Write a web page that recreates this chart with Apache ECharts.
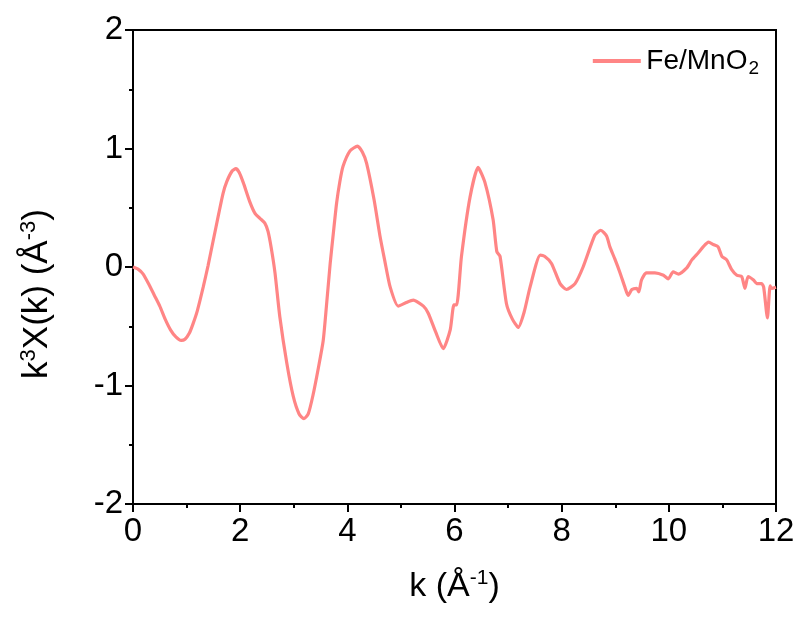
<!DOCTYPE html>
<html><head><meta charset="utf-8">
<script src="https://cdn.jsdelivr.net/npm/echarts@6/dist/echarts.min.js"></script>
<style>html,body{margin:0;padding:0;background:#fff}#c{width:798px;height:626px}</style>
</head><body><div id="c"></div>
<script>
const kValues = [0, 0.1, 0.19, 0.3, 0.4, 0.5, 0.6, 0.7, 0.8, 0.9, 0.97, 1.05, 1.12, 1.2, 1.31, 1.4, 1.5, 1.6, 1.68, 1.75, 1.85, 1.92, 1.98, 2.06, 2.18, 2.28, 2.37, 2.46, 2.52, 2.58, 2.65, 2.74, 2.87, 2.99, 3.1, 3.19, 3.27, 3.36, 3.46, 3.55, 3.61, 3.68, 3.74, 3.8, 3.86, 3.92, 4.05, 4.19, 4.28, 4.36, 4.5, 4.61, 4.7, 4.8, 4.95, 5.1, 5.23, 5.42, 5.51, 5.65, 5.79, 5.92, 5.99, 6.04, 6.13, 6.29, 6.44, 6.57, 6.72, 6.79, 6.85, 6.97, 7.08, 7.19, 7.3, 7.41, 7.6, 7.68, 7.81, 7.97, 8.09, 8.25, 8.4, 8.62, 8.73, 8.84, 8.9, 8.99, 9.09, 9.18, 9.24, 9.31, 9.4, 9.44, 9.49, 9.58, 9.74, 9.9, 9.99, 10.08, 10.18, 10.33, 10.43, 10.55, 10.64, 10.74, 10.83, 10.92, 10.99, 11.08, 11.17, 11.27, 11.36, 11.42, 11.48, 11.58, 11.64, 11.73, 11.77, 11.84, 11.89, 11.92, 12];
const chiValues = [0, -0.02, -0.06, -0.15, -0.24, -0.33, -0.44, -0.53, -0.59, -0.62, -0.61, -0.56, -0.48, -0.37, -0.17, 0.01, 0.23, 0.45, 0.62, 0.72, 0.81, 0.83, 0.80, 0.71, 0.55, 0.45, 0.41, 0.37, 0.30, 0.16, -0.05, -0.42, -0.81, -1.09, -1.24, -1.28, -1.24, -1.08, -0.85, -0.62, -0.33, 0.03, 0.29, 0.54, 0.72, 0.85, 0.98, 1.02, 0.97, 0.875, 0.565, 0.26, 0.05, -0.17, -0.33, -0.30, -0.28, -0.33, -0.39, -0.55, -0.69, -0.53, -0.32, -0.32, 0.09, 0.59, 0.84, 0.71, 0.40, 0.13, 0.09, -0.31, -0.44, -0.51, -0.38, -0.17, 0.10, 0.09, 0.03, -0.14, -0.19, -0.14, 0.0, 0.27, 0.31, 0.26, 0.17, 0.07, -0.05, -0.17, -0.24, -0.19, -0.18, -0.21, -0.11, -0.05, -0.05, -0.07, -0.10, -0.04, -0.06, -0.01, 0.06, 0.12, 0.17, 0.21, 0.19, 0.17, 0.09, 0.06, -0.02, -0.07, -0.08, -0.18, -0.08, -0.11, -0.14, -0.14, -0.17, -0.43, -0.16, -0.18, -0.17];
const seriesName = 'Fe/MnO2';
const xTicks = [0, 2, 4, 6, 8, 10, 12];
const yTicks = [-2, -1, 0, 1, 2];

const font = 'Liberation Sans, Arial, sans-serif';
const chart = echarts.init(document.getElementById('c'), null, {renderer: 'canvas'});
chart.setOption({
  backgroundColor: '#fff',
  animation: false,
  grid: {left: 133, top: 30, right: 22, bottom: 122, show: true, borderColor: '#000', borderWidth: 2, backgroundColor: 'transparent'},
  legend: {
    right: 34, top: 42, itemWidth: 49, itemHeight: 4, itemGap: 6,
    icon: 'path://M0,0 L48,0 L48,4 L0,4 Z',
    data: [seriesName],
    formatter: function () { return '{a|Fe/MnO}{s|2}'; },
    textStyle: {
      fontFamily: font, color: '#000',
      rich: {
        a: {fontSize: 28, fontFamily: font, color: '#000'},
        s: {fontSize: 19, fontFamily: font, color: '#000', verticalAlign: 'bottom', padding: [16, 0, 0, 1]}
      }
    }
  },
  xAxis: {
    type: 'value', min: xTicks[0], max: xTicks[xTicks.length - 1], interval: 2,
    name: '{a|k (Å}{s|-1}{a|)}', nameLocation: 'middle', nameGap: 64,
    nameTextStyle: {rich: {
      a: {fontSize: 34, fontFamily: font, color: '#000'},
      s: {fontSize: 21, fontFamily: font, color: '#000', verticalAlign: 'top', padding: [0, 0, 16, 0]}
    }},
    axisLine: {show: true, onZero: false, lineStyle: {color: '#000', width: 2}},
    axisTick: {show: true, inside: false, length: 8, lineStyle: {color: '#000', width: 2}},
    minorTick: {show: true, splitNumber: 2, length: 4, lineStyle: {color: '#000', width: 2}},
    axisLabel: {fontSize: 33, fontFamily: font, color: '#000', margin: 11},
    splitLine: {show: false}, minorSplitLine: {show: false}
  },
  yAxis: {
    type: 'value', min: yTicks[0], max: yTicks[yTicks.length - 1], interval: 1,
    name: '{a|k}{s|3}{a|Χ(k) (Å}{s|-3}{a|)}', nameLocation: 'middle', nameGap: 77, nameRotate: 90,
    nameTextStyle: {padding: [0, 54, 0, 0], rich: {
      a: {fontSize: 35, fontFamily: font, color: '#000'},
      s: {fontSize: 22, fontFamily: font, color: '#000', verticalAlign: 'top', padding: [0, 0, 16, 0]}
    }},
    axisLine: {show: true, onZero: false, lineStyle: {color: '#000', width: 2}},
    axisTick: {show: true, inside: false, length: 8, lineStyle: {color: '#000', width: 2}},
    minorTick: {show: true, splitNumber: 2, length: 4, lineStyle: {color: '#000', width: 2}},
    axisLabel: {fontSize: 33, fontFamily: font, color: '#000', margin: 10},
    splitLine: {show: false}, minorSplitLine: {show: false}
  },
  series: [{
    name: seriesName, type: 'line', showSymbol: false, smooth: 0.2,
    color: '#FF8585',
    lineStyle: {color: '#FF8585', width: 3.2},
    data: kValues.map((k, i) => [k, chiValues[i]])
  }]
});
</script></body></html>
